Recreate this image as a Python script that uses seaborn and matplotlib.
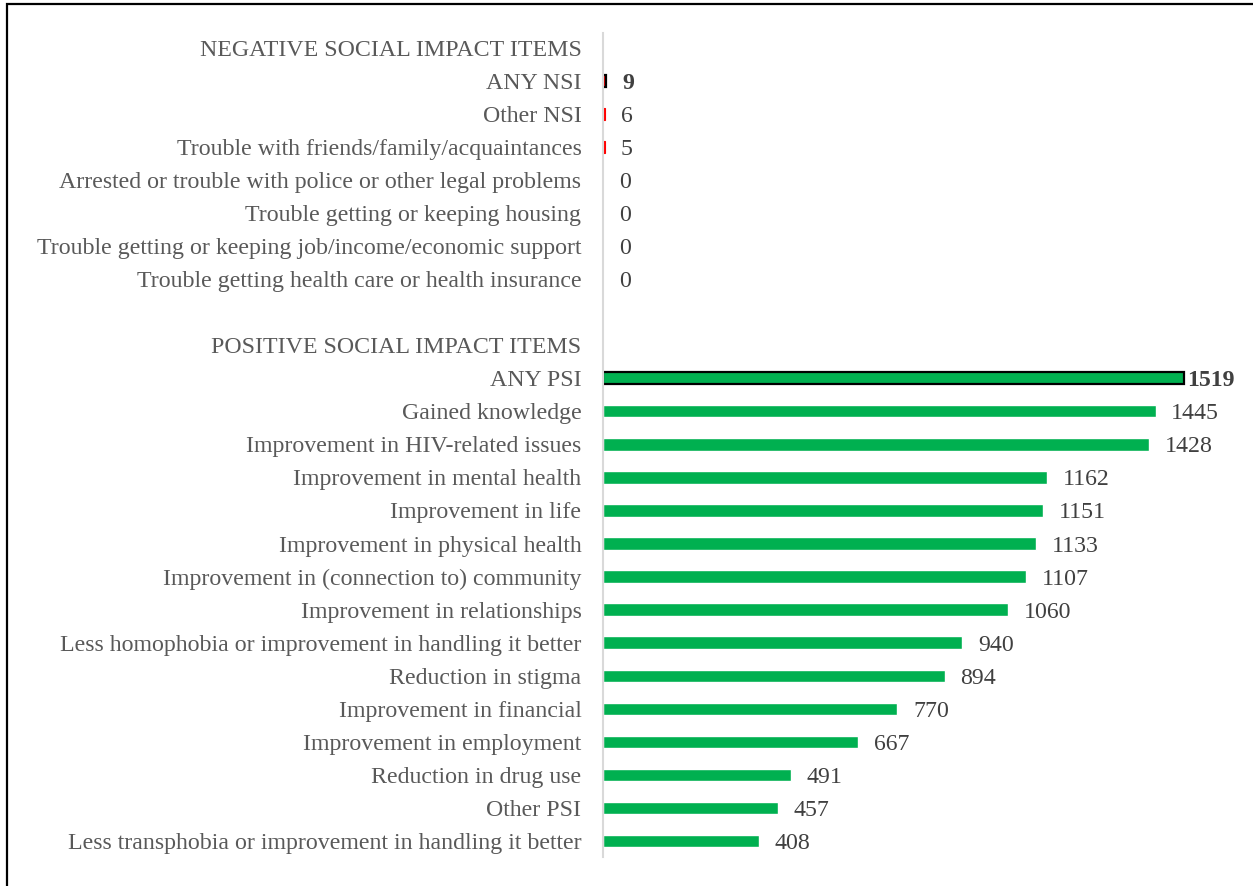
import numpy as np
import pandas as pd
import seaborn as sns
import matplotlib.pyplot as plt
from matplotlib.patches import Rectangle

# row labels, top to bottom (headers and the spacer row carry no value)
items = [
    "NEGATIVE SOCIAL IMPACT ITEMS",
    "ANY NSI",
    "Other NSI",
    "Trouble with friends/family/acquaintances",
    "Arrested or trouble with police or other legal problems",
    "Trouble getting or keeping housing",
    "Trouble getting or keeping job/income/economic support",
    "Trouble getting health care or health insurance",
    "",
    "POSITIVE SOCIAL IMPACT ITEMS",
    "ANY PSI",
    "Gained knowledge",
    "Improvement in HIV-related issues",
    "Improvement in mental health",
    "Improvement in life",
    "Improvement in physical health",
    "Improvement in (connection to) community",
    "Improvement in relationships",
    "Less homophobia or improvement in handling it better",
    "Reduction in stigma",
    "Improvement in financial",
    "Improvement in employment",
    "Reduction in drug use",
    "Other PSI",
    "Less transphobia or improvement in handling it better",
]
values = [np.nan, 9, 6, 5, 0, 0, 0, 0, np.nan,
          np.nan, 1519, 1445, 1428, 1162, 1151, 1133, 1107, 1060,
          940, 894, 770, 667, 491, 457, 408]
groups = ["neg"] * 9 + ["pos"] * 16
totals = ["ANY NSI", "ANY PSI"]

df = pd.DataFrame({"item": items, "value": values, "group": groups})

sns.set_style("white")
plt.rcParams["font.family"] = ["Liberation Serif", "DejaVu Serif"]

fig = plt.figure(figsize=(12.53, 8.86), dpi=100)
ax = fig.add_axes([603 / 1253, 1 - 857 / 886, 1 - 603 / 1253, (857 - 33) / 886])

sns.barplot(data=df.dropna(), x="value", y="item", hue="group", order=items,
            palette={"neg": "#FF0000", "pos": "#00B050"}, dodge=False,
            width=0.37, legend=False, saturation=1, ax=ax)

# black outline on the two summary bars, tiny red bars kept visible
for p in ax.patches:
    row = int(round(p.get_y() + p.get_height() / 2))
    if not (0 <= row < len(items)):
        continue
    if items[row] in totals:
        p.set_edgecolor("black")
        p.set_linewidth(1.6)
    elif groups[row] == "neg" and p.get_width() > 0:
        p.set_edgecolor("#FF0000")
        p.set_linewidth(0.8)

ax.set_xlim(0, 1700)
ax.set_ylim(24.49, -0.454)
ax.set_xlabel("")
ax.set_ylabel("")
ax.set_xticks([])
ax.tick_params(axis="y", length=0, pad=15.5, labelsize=17.2, labelcolor="#595959")
for lab in ax.get_yticklabels():
    lab.set_verticalalignment("center_baseline")
for s in ["top", "right", "bottom"]:
    ax.spines[s].set_visible(False)
ax.spines["left"].set_color("#D9D9D9")
ax.spines["left"].set_linewidth(1.5)

# value labels
for i, (name, v) in enumerate(zip(items, values)):
    if np.isnan(v):
        continue
    bold = name in totals
    off = 10 if name == "ANY PSI" else 41
    ax.text(v + off, i, f"{int(v)}", va="center_baseline", ha="left", fontsize=17.2,
            color="#404040", fontweight="bold" if bold else "normal")

# outer frame of the original figure box
fig.patches.append(Rectangle((7 / 1253, -0.1), 1.2, 1.1 - 4 / 886,
                             transform=fig.transFigure, fill=False,
                             edgecolor="black", linewidth=1.6))

fig.savefig("out.png", dpi=100)
